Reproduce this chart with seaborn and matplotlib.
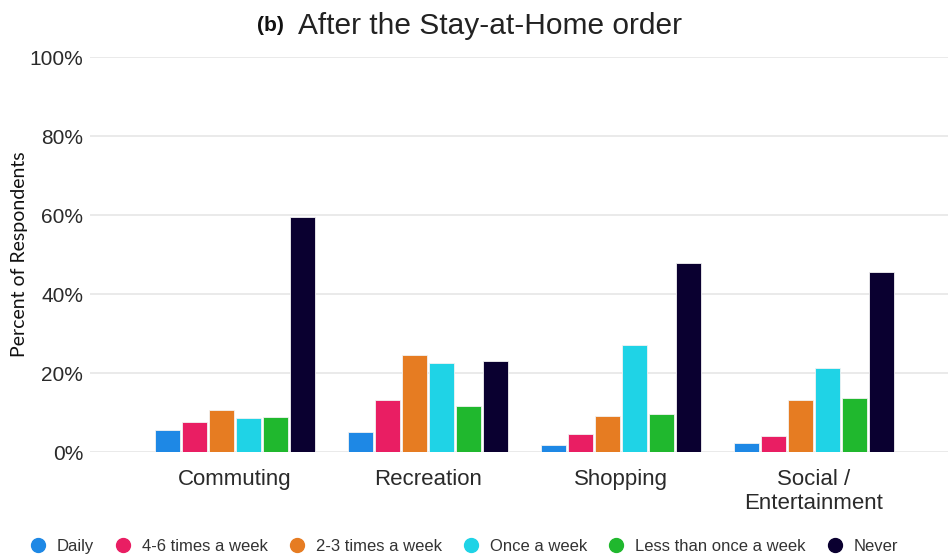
import matplotlib
matplotlib.use('Agg')
import matplotlib.pyplot as plt
from matplotlib.lines import Line2D
from matplotlib.ticker import PercentFormatter
import seaborn as sns
import pandas as pd

categories = ['Commuting', 'Recreation', 'Shopping', 'Social /\nEntertainment']
frequencies = ['Daily', '4-6 times a week', '2-3 times a week', 'Once a week',
               'Less than once a week', 'Never']
daily = [5.5, 5.0, 1.9, 2.4]
four_six = [7.7, 13.3, 4.7, 4.1]
two_three = [10.8, 24.5, 9.2, 13.3]
once = [8.6, 22.7, 27.1, 21.4]
less_once = [8.9, 11.7, 9.8, 13.7]
never = [59.4, 23.1, 47.9, 45.5]
colors = ['#1E88E5', '#E91E63', '#E67C22', '#1FD3E6', '#20B82E', '#0A0030']

series = [daily, four_six, two_three, once, less_once, never]
rows = []
for freq, vals in zip(frequencies, series):
    for cat, v in zip(categories, vals):
        rows.append({'Activity': cat, 'Frequency': freq, 'Percent': v})
df = pd.DataFrame(rows)

sns.set_style('white')
plt.rcParams['font.family'] = ['Liberation Sans', 'DejaVu Sans']

fig = plt.figure(figsize=(9.48, 5.59), dpi=100)
ax = fig.add_axes([0.095, 0.191, 0.905, 0.707])

sns.barplot(data=df, x='Activity', y='Percent', hue='Frequency', order=categories,
            hue_order=frequencies, palette=colors, saturation=1, width=0.84, gap=0.05,
            edgecolor='#f2f2f2', linewidth=0.6, ax=ax, legend=False)

ax.set_ylim(0, 100)
ax.set_xlim(-0.751, 3.695)
ax.set_yticks([0, 20, 40, 60, 80, 100])
ax.yaxis.set_major_formatter(PercentFormatter(decimals=0))
ax.grid(axis='y', color='#e6e6e6', linewidth=1.2)
ax.set_axisbelow(True)
for s in ax.spines.values():
    s.set_visible(False)
ax.tick_params(axis='both', length=0, colors='#2a2a2a')
ax.tick_params(axis='y', pad=5, labelsize=15)
ax.tick_params(axis='x', pad=12, labelsize=16)
ax.set_xlabel('')
ax.set_ylabel('Percent of Respondents', fontsize=14, family=['Lato', 'DejaVu Sans'],
              color='#111111')
ax.yaxis.set_label_coords(-0.072, 0.5)

fig.text(0.271, 0.955, '(b)', fontsize=15, fontweight='bold', ha='left', va='center',
         color='#111111')
fig.text(0.314, 0.953, 'After the Stay-at-Home order', fontsize=21.5, ha='left',
         va='center', color='#222222')

handles = [Line2D([], [], marker='o', linestyle='', markersize=10, color=c) for c in colors]
fig.legend(handles, frequencies, loc='center left', bbox_to_anchor=(0.031, 0.022), ncol=6,
           frameon=False, fontsize=12, handlelength=1.0, handletextpad=0.64,
           columnspacing=1.24, labelcolor='#333333', borderpad=0, borderaxespad=0)

fig.savefig('out.png', dpi=100)
